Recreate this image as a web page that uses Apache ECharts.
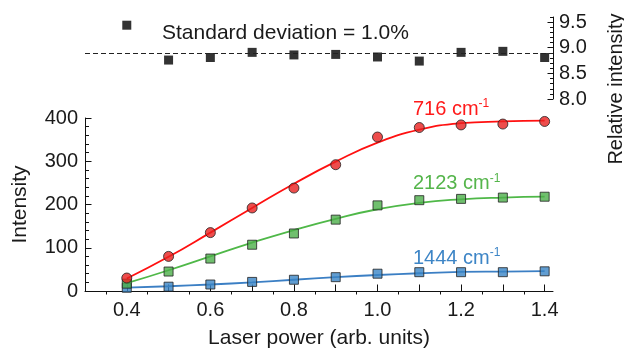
<!DOCTYPE html>
<html>
<head>
<meta charset="utf-8">
<script src="https://cdn.jsdelivr.net/npm/echarts@6/dist/echarts.min.js"></script>
<style>html,body{margin:0;padding:0;background:#fff}#c{width:624px;height:354px}</style>
</head>
<body>
<div id="c"></div>
<script>
// ---- data ----
const laserPower = [0.4, 0.5, 0.6, 0.7, 0.8, 0.9, 1.0, 1.1, 1.2, 1.3, 1.4];
const band716 = [30, 80, 135, 192, 238, 292, 356, 378, 384, 386, 392];
const band716Fit = [29, 79, 135, 192, 248, 299, 343, 373, 388, 392, 394];
const band2123 = [17, 45, 75, 107, 133, 165, 198, 210, 213, 216, 218];
const band2123Fit = [18, 48, 80, 112, 141, 167, 189, 204, 212, 216, 218];
const band1444 = [7.5, 10, 15, 21, 26, 32, 40, 43.5, 43.5, 43.5, 45.5];
const band1444Fit = [8, 11, 15, 20, 26, 32, 37, 41, 44, 45, 46];
const relIntensity = [9.44, 8.76, 8.81, 8.91, 8.86, 8.87, 8.82, 8.74, 8.91, 8.93, 8.81];
const relMean = 8.9;

// ---- tick values ----
const xMajorTicks = [0.3, 0.4, 0.5, 0.6, 0.7, 0.8, 0.9, 1.0, 1.1, 1.2, 1.3, 1.4];
const xMinorTicks = [0.35, 0.45, 0.55, 0.65, 0.75, 0.85, 0.95, 1.05, 1.15, 1.25, 1.35];
const xTickLabels = [0.4, 0.6, 0.8, 1.0, 1.2, 1.4];
const yTickLabels = [0, 100, 200, 300, 400];
const relTickLabels = [8.0, 8.5, 9.0, 9.5];
const relMinorTicks = [8.1, 8.2, 8.3, 8.4, 8.6, 8.7, 8.8, 8.9, 9.1, 9.2, 9.3, 9.4, 9.6];

const FONT = '"Liberation Sans", Arial, sans-serif';
const TXT = '#1a1a1a';
const AX = '#111';
const pair = arr => laserPower.map((x, i) => [x, arr[i]]);

const chart = echarts.init(document.getElementById('c'), null, {renderer: 'canvas'});

const option = {
  backgroundColor: '#fff',
  animation: false,
  textStyle: {fontFamily: FONT},
  grid: [
    {left: 85, top: 17, width: 468, height: 82},
    {left: 85, top: 118, width: 468, height: 178}
  ],
  xAxis: [
    {gridIndex: 0, type: 'value', min: 0.3, max: 1.42, show: false},
    {
      gridIndex: 1, type: 'value', min: 0.3, max: 1.42, interval: 0.1,
      name: 'Laser power (arb. units)', nameLocation: 'middle', nameGap: 37,
      nameTextStyle: {fontSize: 21, color: TXT, fontFamily: FONT},
      axisLine: {show: true, onZero: false, lineStyle: {color: AX, width: 1}},
      axisTick: {show: true, inside: true, length: 6.5, customValues: xMajorTicks, lineStyle: {color: AX}},
      axisLabel: {fontSize: 20, color: TXT, margin: 9, customValues: xTickLabels,
                  formatter: v => Number(v).toFixed(1)},
      splitLine: {show: false}
    },
    {
      gridIndex: 1, type: 'value', min: 0.3, max: 1.42,
      axisLine: {show: false},
      axisTick: {show: true, inside: true, length: 3.5, customValues: xMinorTicks, lineStyle: {color: AX}},
      axisLabel: {show: false},
      splitLine: {show: false}
    }
  ],
  yAxis: [
    {
      gridIndex: 0, type: 'value', position: 'right', min: 8.0, max: 9.6, interval: 0.5,
      axisLine: {show: true, lineStyle: {color: AX, width: 1}},
      axisTick: {show: true, inside: true, length: 5.5, customValues: relTickLabels, lineStyle: {color: AX}},
      axisLabel: {fontSize: 20, color: TXT, margin: 6, customValues: relTickLabels,
                  formatter: v => Number(v).toFixed(1)},
      splitLine: {show: false}
    },
    {
      gridIndex: 0, type: 'value', position: 'right', min: 8.0, max: 9.6,
      axisLine: {show: false},
      axisTick: {show: true, inside: true, length: 3, customValues: relMinorTicks, lineStyle: {color: AX}},
      axisLabel: {show: false},
      splitLine: {show: false}
    },
    {
      gridIndex: 1, type: 'value', min: 0, max: 400, interval: 100,
      name: 'Intensity', nameLocation: 'middle', nameGap: 54,
      nameTextStyle: {fontSize: 21, color: TXT, fontFamily: FONT},
      axisLine: {show: true, onZero: false, lineStyle: {color: AX, width: 1}},
      axisTick: {show: true, inside: true, length: 6.5, lineStyle: {color: AX}},
      minorTick: {show: true, splitNumber: 5, length: 4, lineStyle: {color: AX}},
      axisLabel: {fontSize: 20, color: TXT, margin: 7, customValues: yTickLabels},
      splitLine: {show: false},
      minorSplitLine: {show: false}
    }
  ],
  series: [
    {
      type: 'scatter', xAxisIndex: 0, yAxisIndex: 0, data: pair(relIntensity),
      symbol: 'rect', symbolSize: 9, itemStyle: {color: '#000'},
      markLine: {
        silent: true, symbol: 'none', label: {show: false},
        lineStyle: {type: [5, 3], color: '#222', width: 1},
        data: [{yAxis: relMean}]
      },
      z: 3
    },
    {type: 'line', xAxisIndex: 1, yAxisIndex: 2, data: pair(band1444Fit), smooth: 0.5,
     showSymbol: false, lineStyle: {color: '#3b7fc4', width: 1.8}, z: 2},
    {type: 'line', xAxisIndex: 1, yAxisIndex: 2, data: pair(band2123Fit), smooth: 0.5,
     showSymbol: false, lineStyle: {color: '#4fb848', width: 1.8}, z: 2},
    {type: 'line', xAxisIndex: 1, yAxisIndex: 2, data: pair(band716Fit), smooth: 0.5,
     showSymbol: false, lineStyle: {color: '#ff1010', width: 1.8}, z: 2},
    {type: 'scatter', xAxisIndex: 1, yAxisIndex: 2, data: pair(band1444), symbol: 'rect', symbolSize: 9,
     itemStyle: {color: '#3a84c6', borderColor: '#222', borderWidth: 1}, z: 4},
    {type: 'scatter', xAxisIndex: 1, yAxisIndex: 2, data: pair(band2123), symbol: 'rect', symbolSize: 9,
     itemStyle: {color: '#4caf4a', borderColor: '#222', borderWidth: 1}, z: 5},
    {type: 'scatter', xAxisIndex: 1, yAxisIndex: 2, data: pair(band716), symbol: 'circle', symbolSize: 10,
     itemStyle: {color: '#e8201f', borderColor: '#222', borderWidth: 1}, z: 6}
  ],
  graphic: [
    {type: 'text', x: 162, y: 33.5, z: 10,
     style: {text: 'Standard deviation = 1.0%', fontSize: 21, fontFamily: FONT, fill: TXT, verticalAlign: 'middle'}},
    {type: 'text', x: 616, y: 89, rotation: Math.PI / 2, z: 10,
     style: {text: 'Relative intensity', fontSize: 20, fontFamily: FONT, fill: TXT, align: 'center', verticalAlign: 'middle'}},
    {type: 'text', x: 413, y: 109, z: 10,
     style: {text: '{a|716 cm}{s|-1}', verticalAlign: 'middle', fill: '#ff1a1a',
             rich: {a: {fontSize: 20, fontFamily: FONT, fill: '#ff1a1a', lineHeight: 22},
                    s: {fontSize: 12, fontFamily: FONT, fill: '#ff1a1a', verticalAlign: 'top', lineHeight: 22}}}},
    {type: 'text', x: 413, y: 183.5, z: 10,
     style: {text: '{a|2123 cm}{s|-1}', verticalAlign: 'middle', fill: '#55b54b',
             rich: {a: {fontSize: 20, fontFamily: FONT, fill: '#55b54b', lineHeight: 22},
                    s: {fontSize: 12, fontFamily: FONT, fill: '#55b54b', verticalAlign: 'top', lineHeight: 22}}}},
    {type: 'text', x: 413, y: 258, z: 10,
     style: {text: '{a|1444 cm}{s|-1}', verticalAlign: 'middle', fill: '#3d85c6',
             rich: {a: {fontSize: 20, fontFamily: FONT, fill: '#3d85c6', lineHeight: 22},
                    s: {fontSize: 12, fontFamily: FONT, fill: '#3d85c6', verticalAlign: 'top', lineHeight: 22}}}}
  ]
};
chart.setOption(option);
</script>
</body>
</html>
